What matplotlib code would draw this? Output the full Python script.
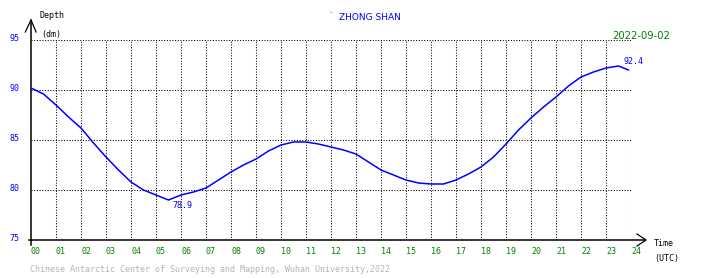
import matplotlib
matplotlib.use("Agg")
import matplotlib.pyplot as plt
import matplotlib.transforms as mtrans

# ---- data ----
hours = [0, 0.5, 1, 1.5, 2, 2.5, 3, 3.5, 4, 4.5, 5, 5.5, 6, 6.5, 7, 7.5, 8, 8.5,
         9, 9.5, 10, 10.5, 11, 11.5, 12, 12.5, 13, 13.5, 14, 14.5, 15, 15.5, 16,
         16.5, 17, 17.5, 18, 18.5, 19, 19.5, 20, 20.5, 21, 21.5, 22, 22.5, 23,
         23.5, 23.9]
depth = [90.2, 89.6, 88.5, 87.3, 86.2, 84.7, 83.3, 82.0, 80.8, 80.0, 79.5, 79.0,
         79.5, 79.8, 80.2, 81.0, 81.8, 82.5, 83.1, 83.9, 84.5, 84.8, 84.8, 84.6,
         84.3, 84.0, 83.6, 82.8, 82.0, 81.5, 81.0, 80.7, 80.6, 80.6, 81.0, 81.6,
         82.3, 83.3, 84.6, 86.0, 87.2, 88.3, 89.3, 90.4, 91.3, 91.8, 92.2, 92.4,
         92.0]
xtick_vals = list(range(0, 25))
xtick_labels = ["%02d" % h for h in xtick_vals]
ytick_vals = [75, 80, 85, 90, 95]
min_label = ("78.9", 5.65, 78.9)
max_label = ("92.4", 23.68, 92.4)
title = "ZHONG SHAN"
date_text = "2022-09-02"
footer = "Chinese Antarctic Center of Surveying and Mapping, Wuhan University,2022"

W, H = 710, 278
fig = plt.figure(figsize=(W / 100, H / 100), dpi=100)
fig.patch.set_facecolor("white")
ax = fig.add_axes([31 / W, (H - 240) / H, 600 / W, 200 / H])
ax.set_xlim(0, 24)
ax.set_ylim(75, 95)

mono = "DejaVu Sans Mono"
blue = "#0000ff"
green = "#008000"

# grid (dotted)
for h in xtick_vals[1:]:
    ax.axvline(h, color="black", lw=0.75, ls=(0, (1, 1.6)), zorder=1)
for v in ytick_vals[1:]:
    ax.axhline(v, color="black", lw=0.75, ls=(0, (1, 1.6)), zorder=1)

# data line
ax.plot(hours, depth, color=blue, lw=1.1, zorder=3)

# min / max annotations
ax.text(min_label[1], min_label[2], min_label[0], color=blue, fontsize=6,
        family=mono, ha="left", va="top")
ax.text(max_label[1], max_label[2], max_label[0], color=blue, fontsize=6,
        family=mono, ha="left", va="bottom")

for s in ax.spines.values():
    s.set_visible(False)

# axis lines with arrows (axes fraction coords)
ta = ax.transAxes
ax.plot([0, 0], [-0.025, 1.1], color="black", lw=1.1, transform=ta, clip_on=False)
ax.plot([-0.0095, 0, 0.0085], [1.04, 1.1, 1.04], color="black", lw=0.9,
        transform=ta, clip_on=False)
ax.plot([-0.003, 1.024], [0, 0], color="black", lw=1.1, transform=ta, clip_on=False)
ax.plot([1.01, 1.025, 1.01], [0.03, 0, -0.03], color="black", lw=0.9,
        transform=ta, clip_on=False)

# ticks
ax.set_xticks(xtick_vals)
ax.set_xticklabels(xtick_labels, family=mono, fontsize=6, color=green)
for lab in ax.get_xticklabels():
    lab.set_ha("left")
ax.tick_params(axis="x", length=0, pad=5)
ax.set_yticks(ytick_vals)
ax.set_yticklabels([str(v) for v in ytick_vals], family=mono, fontsize=6, color=blue)
ax.tick_params(axis="y", length=0, pad=8.5)
off = mtrans.ScaledTranslation(0, 2 / 72, fig.dpi_scale_trans)
for lab in ax.get_yticklabels():
    lab.set_transform(lab.get_transform() + off)

# figure texts (pixel coordinates -> figure fraction)
def ft(x, y, s, **kw):
    fig.text(x / W, 1 - y / H, s, va="center", **kw)

ft(40, 16, "Depth", family=mono, fontsize=6, color="black")
ft(41, 34, "(dm)", family=mono, fontsize=6, color="black")
ft(329, 14, "\u00b7", family="DejaVu Sans", fontsize=6, color=blue)
ft(339, 17, title, family="DejaVu Sans", fontsize=6.5, color=blue)
ft(612, 36, date_text, family="DejaVu Sans", fontsize=7.2, color=green)
ft(654, 244, "Time", family=mono, fontsize=6, color="black")
ft(654, 259, "(UTC)", family=mono, fontsize=6, color="black")
ft(30, 270, footer, family=mono, fontsize=6, color="#b4b4b4")

fig.savefig("out.png", dpi=100, facecolor="white")
